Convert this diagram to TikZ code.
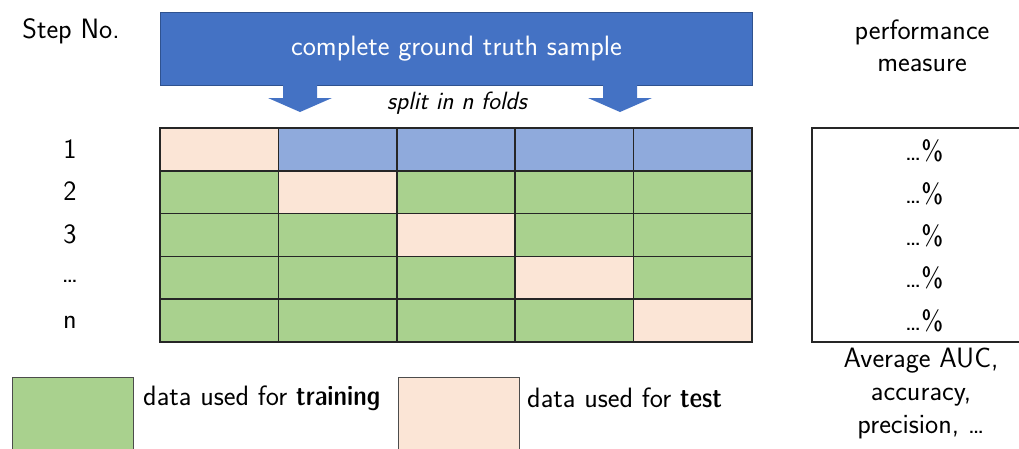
\documentclass[tikz,border=0pt]{standalone}
\definecolor{barblue}{HTML}{4472C4}
\definecolor{baredge}{HTML}{2F528F}
\definecolor{foldblue}{HTML}{8FAADC}
\definecolor{traingreen}{HTML}{A9D18E}
\definecolor{testpink}{HTML}{FBE5D6}
\definecolor{gridline}{HTML}{262626}
\newcommand{\emphw}[1]{{\fontseries{sbc}\selectfont #1}}
\tikzset{
  txt/.style={font=\sffamily\fontsize{28}{32}\selectfont, inner sep=0pt, align=center},
  cell/.style={draw=gridline, line width=1.5pt, minimum width=118.4pt, minimum height=42.8pt,
               inner sep=0pt, outer sep=0pt, anchor=north west},
  train/.style={cell, fill=traingreen},
  testc/.style={cell, fill=testpink},
  fold/.style={cell, fill=foldblue},
  legendbox/.style={draw=black!70, line width=1pt, minimum width=121pt, minimum height=80pt,
                    inner sep=0pt, anchor=north west},
  splitarrow/.style={fill=barblue, draw=none},
}
\begin{document}
\begin{tikzpicture}[x=1pt,y=-1pt]
\useasboundingbox (0,0) rectangle (1019,448);

% header labels
\node[txt] (stephead) at (71,31) {Step No.};
\node[txt] (perfhead) at (922,46) {performance\\measure};

% full sample bar
\node[draw=baredge, line width=1pt, fill=barblue, minimum width=592pt, minimum height=73pt,
      inner sep=0pt, anchor=north west, text=white, font=\sffamily\fontsize{28}{32}\selectfont]
      (sample) at (160,12) {complete ground truth sample};

% split arrows
\coordinate (la) at (300,85);
\coordinate (ra) at (620,85);
\foreach \a in {la,ra}{
  \fill[splitarrow] ([xshift=-17pt]\a) -- ([xshift=17pt]\a) -- ([xshift=17pt,yshift=-13pt]\a)
    -- ([xshift=32pt,yshift=-13pt]\a) -- ([yshift=-27pt]\a) -- ([xshift=-32pt,yshift=-13pt]\a)
    -- ([xshift=-17pt,yshift=-13pt]\a) -- cycle;
}
\node[font=\sffamily\itshape\fontsize{25}{28}\selectfont, inner sep=0pt] (split) at (457,103) {split in n folds};

% folds grid: row r, column c
\foreach \r in {1,...,5}{
  \foreach \c in {1,...,5}{
    \pgfmathsetmacro\xx{160+118.4*(\c-1)}
    \pgfmathsetmacro\yy{128+42.8*(\r-1)}
    \ifnum\r=\c
      \node[testc] (c-\r-\c) at (\xx,\yy) {};
    \else
      \ifnum\r=1
        \node[fold] (c-\r-\c) at (\xx,\yy) {};
      \else
        \node[train] (c-\r-\c) at (\xx,\yy) {};
      \fi
    \fi
  }
}

% step numbers
\node[txt] (s-1) at (70,149) {1};
\node[txt] (s-2) at (70,191) {2};
\node[txt] (s-3) at (70,234) {3};
\node[txt] (s-4) at (70,281) {\ldots};
\node[txt] (s-5) at (70,322) {n};

% per-step results
\foreach \i in {1,...,5}{
  \node[txt] (p-\i) at (924,{151+42.4*(\i-1)}) {\ldots\%};
}

% result box
\draw[draw=gridline, line width=1.3pt] (812,128) rectangle (1040,342);

\node[txt, font=\sffamily\fontsize{28}{33}\selectfont] (avg) at (921,393) {Average AUC,\\accuracy,\\precision, \ldots};

% legend
\node[legendbox, fill=traingreen] (ltrain) at (12,377) {};
\node[txt, anchor=west] (ltraint) at (143,398) {data used for \emphw{training}};
\node[legendbox, fill=testpink] (ltest) at (398,377) {};
\node[txt, anchor=west] (ltestt) at (527,398) {data used for \emphw{test}};
\end{tikzpicture}
\end{document}
